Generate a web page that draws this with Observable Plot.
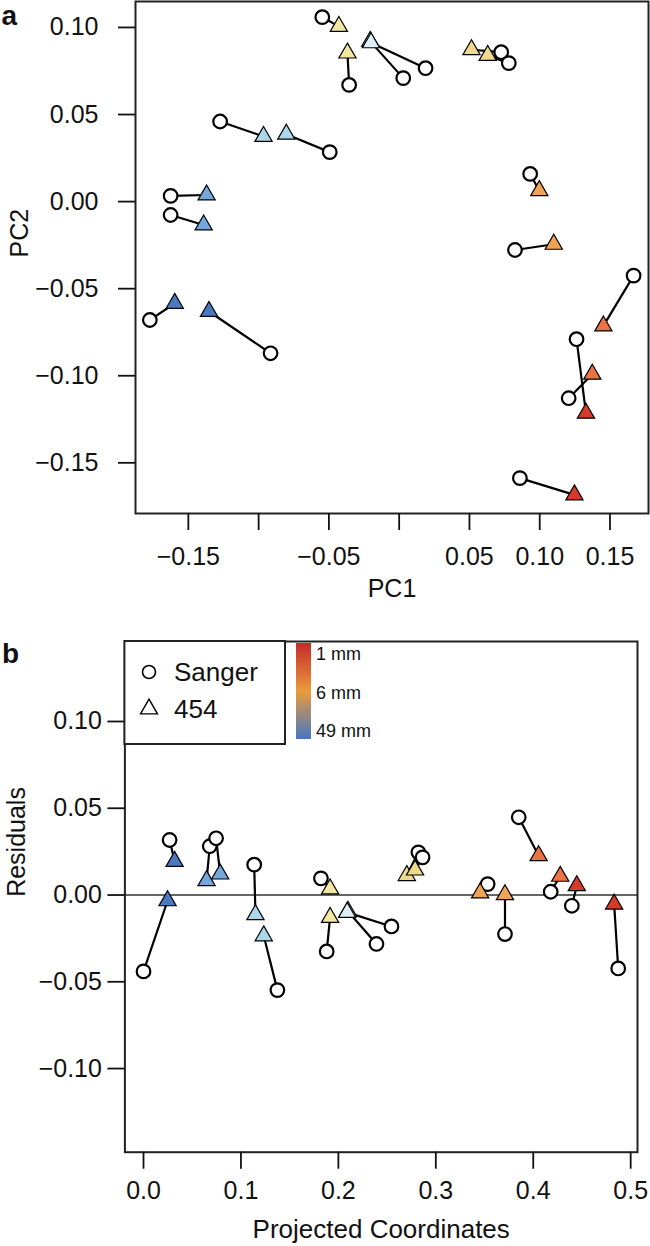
<!DOCTYPE html>
<html>
<head>
<meta charset="utf-8">
<script src="https://cdn.jsdelivr.net/npm/d3@7"></script>
<script src="https://cdn.jsdelivr.net/npm/@observablehq/plot@0.6"></script>
<style>
html, body { margin: 0; padding: 0; background: #fff; }
#chart { width: 650px; }
#chart svg { display: block; }
</style>
</head>
<body>
<div id="chart"></div>
<script>
// ---------- Data ----------
// depth colour classes (1 mm shallow = red ... 49 mm deep = blue)
const depthClasses = ["red", "orangeRed", "orange", "gold", "paleYellow", "palestBlue", "lightBlue", "midBlue", "blue"];
const depthColors  = ["#d63a2b", "#ec7444", "#efa355", "#efd98a", "#f3e8a2", "#ddf0f5", "#acd6e9", "#74a8dc", "#4b79c0"];

// Panel a: PCA (Sanger vs 454, one pair per sample)
const pcaSangerPC1 = [-0.0547, -0.0356, 0.0029, 0.0188, 0.0726, 0.0780, -0.1274, -0.0494, 0.0932, -0.1626, -0.1626, 0.0824, 0.1668, -0.1774, -0.0915, 0.1262, 0.1206, 0.0859];
const pcaSangerPC2 = [0.1059, 0.0670, 0.0709, 0.0766, 0.0858, 0.0795, 0.0460, 0.0284, 0.0159, 0.0033, -0.0077, -0.0278, -0.0425, -0.0680, -0.0871, -0.0790, -0.1129, -0.1588];
const pca454PC1    = [-0.0429, -0.0368, -0.0206, -0.0200, 0.0515, 0.0630, -0.0965, -0.0803, 0.0997, -0.1370, -0.1391, 0.1100, 0.1453, -0.1597, -0.1353, 0.1329, 0.1374, 0.1247];
const pca454PC2    = [0.1006, 0.0853, 0.0920, 0.0912, 0.0872, 0.0839, 0.0374, 0.0387, 0.0063, 0.0038, -0.0134, -0.0245, -0.0714, -0.0584, -0.0631, -0.1215, -0.0991, -0.1684];
const pcaDepth     = ["paleYellow", "paleYellow", "palestBlue", "palestBlue", "gold", "gold", "lightBlue", "lightBlue", "orange", "midBlue", "midBlue", "orange", "orangeRed", "blue", "blue", "red", "orangeRed", "red"];

// Panel b: residuals vs projected coordinates
const resSangerX = [0.0268, 0.0000, 0.0680, 0.0745, 0.1136, 0.1374, 0.1821, 0.1880, 0.2391, 0.2545, 0.2821, 0.2864, 0.3532, 0.3710, 0.3851, 0.4179, 0.4396, 0.4872];
const resSangerY = [0.0317, -0.0440, 0.0281, 0.0327, 0.0175, -0.0548, 0.0096, -0.0325, -0.0282, -0.0181, 0.0246, 0.0217, 0.0063, -0.0225, 0.0448, 0.0019, -0.0062, -0.0423];
const res454X    = [0.0319, 0.0247, 0.0647, 0.0787, 0.1149, 0.1234, 0.1915, 0.1915, 0.2098, 0.2090, 0.2702, 0.2787, 0.3455, 0.3710, 0.4055, 0.4277, 0.4447, 0.4830];
const res454Y    = [0.0194, -0.0033, 0.0083, 0.0121, -0.0113, -0.0235, 0.0035, -0.0129, -0.0094, -0.0100, 0.0112, 0.0144, 0.0012, 0.0002, 0.0227, 0.0108, 0.0054, -0.0052];
const resDepth   = ["blue", "blue", "midBlue", "midBlue", "lightBlue", "lightBlue", "paleYellow", "paleYellow", "palestBlue", "palestBlue", "gold", "gold", "orange", "orange", "orangeRed", "orangeRed", "red", "red"];

// Axis ticks and labels
const pcaXTicks = [-0.15, -0.10, -0.05, 0, 0.05, 0.10, 0.15];
const pcaXTickLabels = ["\u22120.15", "", "\u22120.05", "", "0.05", "0.10", "0.15"];
const pcaYTicks = [-0.15, -0.10, -0.05, 0, 0.05, 0.10];
const pcaYTickLabels = ["\u22120.15", "\u22120.10", "\u22120.05", "0.00", "0.05", "0.10"];
const resXTicks = [0, 0.1, 0.2, 0.3, 0.4, 0.5];
const resXTickLabels = ["0.0", "0.1", "0.2", "0.3", "0.4", "0.5"];
const resYTicks = [-0.10, -0.05, 0, 0.05, 0.10];
const resYTickLabels = ["\u22120.10", "\u22120.05", "0.00", "0.05", "0.10"];

// Legend content
const legendLabels = ["Sanger", "454"];
const colorbarLabels = ["1 mm", "6 mm", "49 mm"];
const colorbarStops = ["#c42a2a", "#ea9a3c", "#4577c4"];

// ---------- Build tables ----------
const pcaPairs = pcaSangerPC1.map((_, i) => ({sx: pcaSangerPC1[i], sy: pcaSangerPC2[i], tx: pca454PC1[i], ty: pca454PC2[i], cls: pcaDepth[i]}));
const resPairs = resSangerX.map((_, i) => ({sx: resSangerX[i], sy: resSangerY[i], tx: res454X[i], ty: res454Y[i], cls: resDepth[i]}));

const font = "'Liberation Sans', Arial, Helvetica, sans-serif";
const FS = 25;
const fmt = (ticks, labels) => { const m = new Map(ticks.map((t, i) => [t, labels[i]])); return d => m.get(d) ?? ""; };
const colorScale = {type: "ordinal", domain: depthClasses, range: depthColors};

function pairMarks(data) {
  return [
    Plot.link(data, {x1: "sx", y1: "sy", x2: "tx", y2: "ty", stroke: "#000", strokeWidth: 2.2}),
    Plot.dot(data, {x: "sx", y: "sy", r: 6.8, fill: "white", stroke: "#000", strokeWidth: 2.2}),
    Plot.dot(data, {x: "tx", y: "ty", symbol: "triangle", r: 6.4, fill: "cls", stroke: "#000", strokeWidth: 1.2})
  ];
}

// ---------- Panel a ----------
const plotA = Plot.plot({
  width: 650, height: 614,
  marginLeft: 135, marginRight: 2, marginTop: 1, marginBottom: 101,
  style: {fontFamily: font, fontSize: FS + "px", background: "white", color: "#111"},
  x: {domain: [-0.1876, 0.1774]},
  y: {domain: [-0.1791, 0.1149]},
  color: colorScale,
  marks: [
    ...pairMarks(pcaPairs),
    Plot.frame({stroke: "#222", strokeWidth: 2}),
    Plot.axisX({ticks: pcaXTicks, tickFormat: fmt(pcaXTicks, pcaXTickLabels), tickSize: 17, tickPadding: 17, fontSize: FS, strokeWidth: 1.8, label: null}),
    Plot.axisY({ticks: pcaYTicks, tickFormat: fmt(pcaYTicks, pcaYTickLabels), tickSize: 17, tickPadding: 20, fontSize: FS, strokeWidth: 1.8, label: null}),
    Plot.text(["PC1"], {frameAnchor: "bottom", dy: 83, fontSize: FS}),
    Plot.text(["PC2"], {frameAnchor: "left", dx: -116, rotate: -90, fontSize: FS}),
    Plot.text(["a"], {frameAnchor: "top-left", dx: -134, dy: 4, textAnchor: "start", fontWeight: "bold", fontSize: 28})
  ]
});

// ---------- Panel b ----------
const mB = {left: 124.4, right: 13, top: 27, bottom: 94.3};
const plotB = Plot.plot({
  width: 650, height: 632,
  marginLeft: mB.left, marginRight: mB.right, marginTop: mB.top, marginBottom: mB.bottom,
  style: {fontFamily: font, fontSize: FS + "px", background: "white", color: "#111"},
  x: {domain: [-0.0191, 0.507]},
  y: {domain: [-0.1482, 0.1461]},
  color: colorScale,
  marks: [
    Plot.ruleY([0], {stroke: "#333", strokeWidth: 1.6}),
    ...pairMarks(resPairs),
    Plot.frame({stroke: "#222", strokeWidth: 2}),
    Plot.axisX({ticks: resXTicks, tickFormat: fmt(resXTicks, resXTickLabels), tickSize: 17, tickPadding: 12, fontSize: FS, strokeWidth: 1.8, label: null}),
    Plot.axisY({ticks: resYTicks, tickFormat: fmt(resYTicks, resYTickLabels), tickSize: 17, tickPadding: 6, fontSize: FS, strokeWidth: 1.8, label: null}),
    Plot.text(["Projected Coordinates"], {frameAnchor: "bottom", dy: 86, fontSize: 26}),
    Plot.text(["Residuals"], {frameAnchor: "left", dx: -108, rotate: -90, fontSize: FS}),
    Plot.text(["b"], {frameAnchor: "top-left", dx: -123, dy: 2, textAnchor: "start", fontWeight: "bold", fontSize: 28})
  ]
});

// ---------- Legend (inside panel b, top-left) ----------
(function addLegend(svgEl) {
  const svg = d3.select(svgEl);
  const g = svg.append("g").attr("font-family", font).attr("fill", "#111").attr("text-anchor", "start");
  const x0 = mB.left, y0 = mB.top;
  g.append("rect").attr("x", x0).attr("y", y0).attr("width", 160.6).attr("height", 103)
    .attr("fill", "white").attr("stroke", "#222").attr("stroke-width", 2);
  const symX = x0 + 24.6, txtX = x0 + 49.6;
  const rows = [y0 + 31, y0 + 68];
  g.append("circle").attr("cx", symX).attr("cy", rows[0]).attr("r", 6.5)
    .attr("fill", "white").attr("stroke", "#000").attr("stroke-width", 1.6);
  g.append("path").attr("d", d3.symbol(d3.symbolTriangle, Math.PI * 6.3 * 6.3)())
    .attr("transform", `translate(${symX},${rows[1]})`)
    .attr("fill", "white").attr("stroke", "#000").attr("stroke-width", 1.4);
  legendLabels.forEach((t, i) => {
    g.append("text").attr("x", txtX).attr("y", rows[i]).attr("dy", "0.35em")
      .attr("text-anchor", "start").attr("font-size", FS + 1).text(t);
  });
  // colour bar
  const defs = svg.append("defs");
  const grad = defs.append("linearGradient").attr("id", "depthGrad")
    .attr("x1", 0).attr("y1", 0).attr("x2", 0).attr("y2", 1);
  colorbarStops.forEach((c, i) => grad.append("stop")
    .attr("offset", i / (colorbarStops.length - 1)).attr("stop-color", c));
  const cbX = x0 + 171.6, cbY = y0 + 2, cbW = 15, cbH = 96;
  g.append("rect").attr("x", cbX).attr("y", cbY).attr("width", cbW).attr("height", cbH)
    .attr("fill", "url(#depthGrad)");
  const labelY = [cbY + 11, cbY + 50, cbY + 88];
  colorbarLabels.forEach((t, i) => {
    g.append("text").attr("x", cbX + cbW + 5).attr("y", labelY[i]).attr("dy", "0.35em")
      .attr("text-anchor", "start").attr("font-size", 18).text(t);
  });
})(plotB);

const chart = document.getElementById("chart");
chart.appendChild(plotA);
chart.appendChild(plotB);
</script>
</body>
</html>
